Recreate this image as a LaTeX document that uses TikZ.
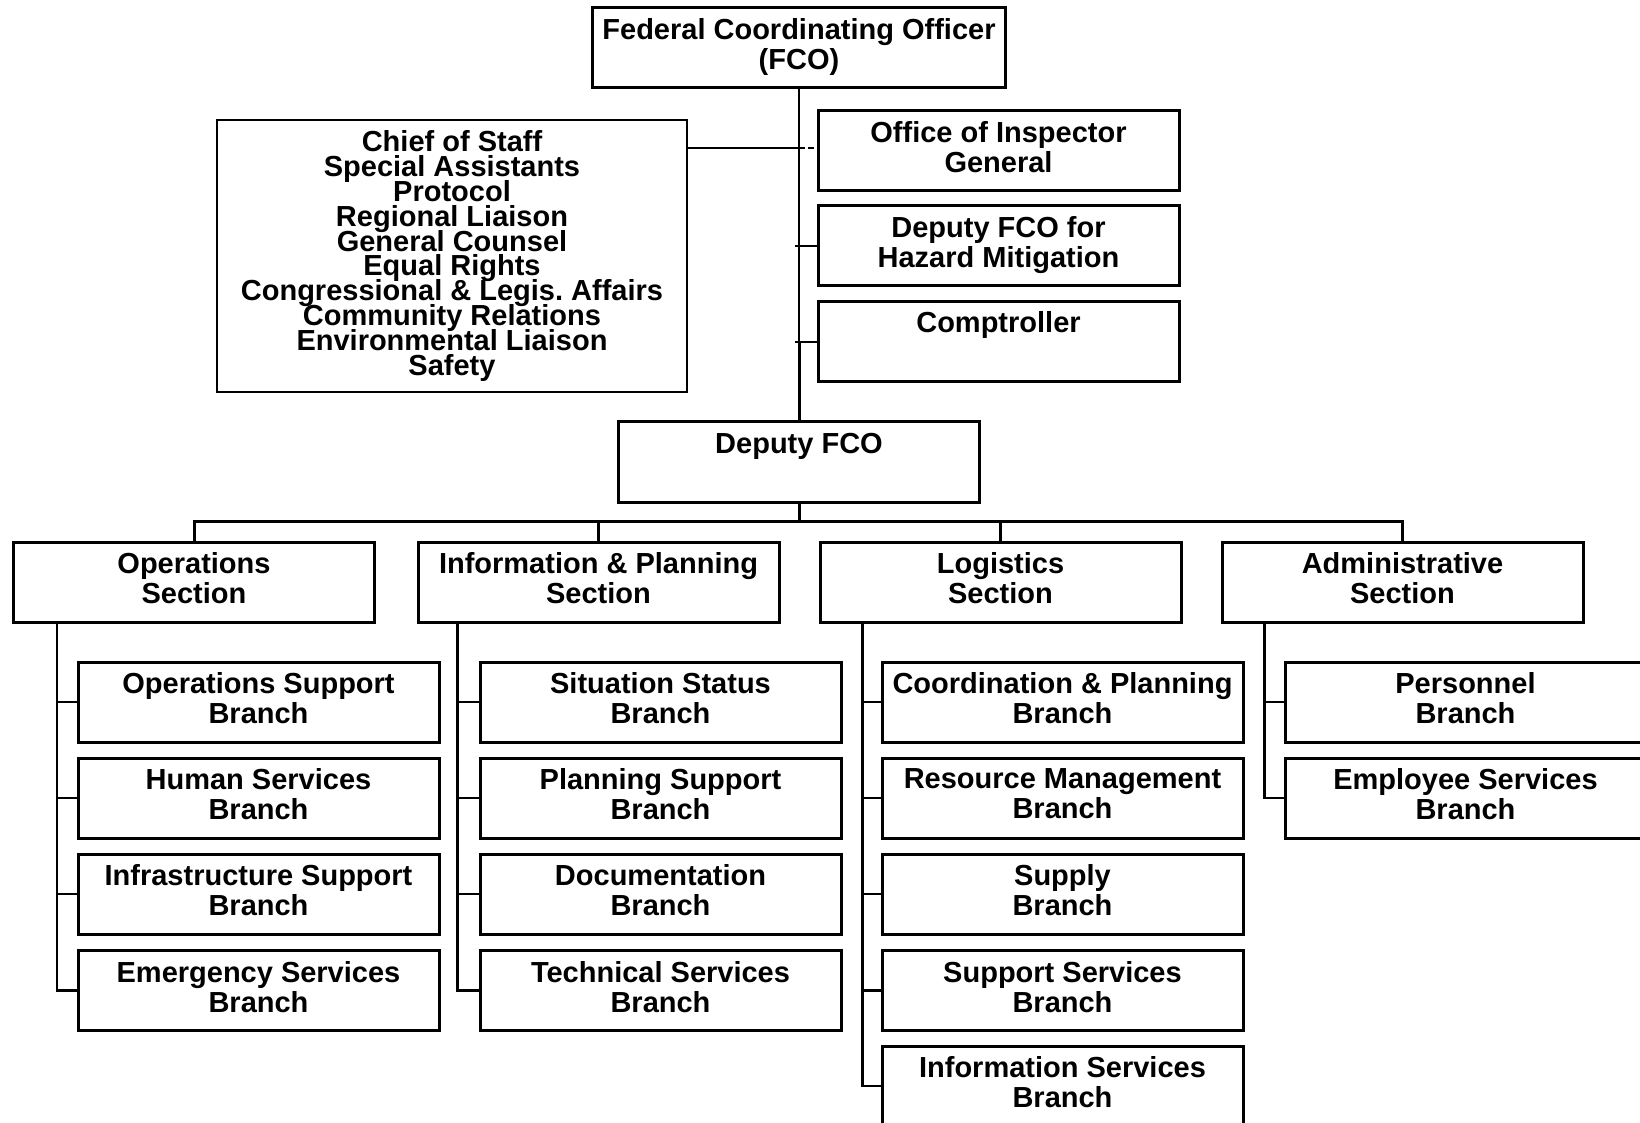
\documentclass[tikz,border=0pt]{standalone}
\usepackage{fontspec}
\setmainfont{Liberation Sans}
\usetikzlibrary{positioning, calc}
\tikzset{
    kasten/.style={
        draw=black,            % kräftige Kontur
        line width=1.5pt,
        minimum width=180.5pt,
        minimum height=40pt,
        inner sep=0pt,
        align=center,
        font=\bfseries\fontsize{14.5}{15}\selectfont,
        execute at begin node={\vrule height 11pt depth 0pt width 0pt},
        execute at end node={\vrule height 0pt depth 4pt width 0pt}
    },
    oben/.style={text height=15.5pt, text depth=24.5pt},  % einzeiliger Text oben
    stabliste/.style={
        draw=black,
        line width=0.75pt,
        minimum width=235pt,
        minimum height=136pt,
        inner sep=0pt,
        align=center,
        font=\bfseries\fontsize{14.5}{12.4}\selectfont,
        execute at begin node={\lineskiplimit=-100pt\relax}
    },
    duenn/.style={line width=1pt},
    linie/.style={line width=1.2pt},
    dick/.style={line width=1.5pt}
}

\begin{document}
\begin{tikzpicture}[x=0.5pt, y=-0.5pt]
    \useasboundingbox (0,0) rectangle (1640,1123);

    % Leitungsebene
    \node[kasten, minimum width=206.5pt] (fco) at (799,47.5) {Federal Coordinating Officer\\(FCO)};
    \node[stabliste] (stab) at (452,256) {Chief of Staff\\Special Assistants\\Protocol\\Regional Liaison\\General Counsel\\Equal Rights\\Congressional \& Legis.\ Affairs\\Community Relations\\Environmental Liaison\\Safety};
    \node[kasten] (ig)   at (998.5,151) {Office of Inspector\\General};
    \node[kasten] (hm)   at (998.5,246) {Deputy FCO for\\Hazard Mitigation};
    \node[kasten, oben] (comp) at (998.5,342) {Comptroller};
    \node[kasten, oben] (dep)  at (799,462) {Deputy FCO};

    % Sektionen
    \node[kasten] (ops)  at (194,582)    {Operations\\Section};
    \node[kasten] (info) at (598.5,582)  {Information \& Planning\\Section};
    \node[kasten] (log)  at (1000.5,582) {Logistics\\Section};
    \node[kasten] (adm)  at (1402.5,582) {Administrative\\Section};

    % Branches: Operations
    \node[kasten] (ob1) at (258.5,702)   {Operations Support\\Branch};
    \node[kasten] (ob2) at (258.5,798)   {Human Services\\Branch};
    \node[kasten] (ob3) at (258.5,894)   {Infrastructure Support\\Branch};
    \node[kasten] (ob4) at (258.5,990.5) {Emergency Services\\Branch};

    % Branches: Information & Planning
    \node[kasten] (ib1) at (660.5,702)   {Situation Status\\Branch};
    \node[kasten] (ib2) at (660.5,798)   {Planning Support\\Branch};
    \node[kasten] (ib3) at (660.5,894)   {Documentation\\Branch};
    \node[kasten] (ib4) at (660.5,990.5) {Technical Services\\Branch};

    % Branches: Logistics
    \node[kasten] (lb1) at (1062.5,702)   {Coordination \& Planning\\Branch};
    \node[kasten] (lb2) at (1062.5,798)   {Resource Management\\Branch};
    \node[kasten] (lb3) at (1062.5,894)   {Supply\\Branch};
    \node[kasten] (lb4) at (1062.5,990.5) {Support Services\\Branch};
    \node[kasten] (lb5) at (1062.5,1086)  {Information Services\\Branch};

    % Branches: Administrative
    \node[kasten] (ab1) at (1465.5,702) {Personnel\\Branch};
    \node[kasten] (ab2) at (1465.5,798) {Employee Services\\Branch};

    % Verbindungen oben
    \coordinate (knick) at (799,148);
    \draw[duenn] (fco.south) -- (comp.west -| fco.south);
    \draw[dick] (comp.west -| fco.south) -- (dep.north);
    \draw[duenn] (knick -| stab.east) -- (knick);
    \draw[duenn, dash pattern=on 3pt off 1.5pt] (knick) -- (knick -| ig.west);
    \draw[duenn] (hm.west) -- ([xshift=-2pt]hm.west -| fco.south);
    \draw[duenn] (comp.west) -- ([xshift=-2pt]comp.west -| fco.south);

    % Sammelschiene zu den Sektionen
    \coordinate (bus) at (799,521);
    \draw[dick] (dep.south) -- (bus);
    \draw[dick] (ops.north) -- (ops.north |- bus) -- (adm.north |- bus) -- (adm.north);
    \draw[dick] (info.north) -- (info.north |- bus);
    \draw[dick] (log.north) -- (log.north |- bus);

    % Stränge zu den Branches
    \draw[linie] ([xshift=22.5pt]ops.south west) coordinate (os) |- (ob4.west);
    \draw[linie] ([xshift=20.5pt]info.south west) coordinate (is) |- (ib4.west);
    \draw[linie] ([xshift=22pt]log.south west) coordinate (ls) |- (lb5.west);
    \draw[linie] ([xshift=22pt]adm.south west) coordinate (as) |- (ab2.west);
    \foreach \b in {ob1,ob2,ob3} \draw[linie] (\b.west) -- (\b.west -| os);
    \foreach \b in {ib1,ib2,ib3} \draw[linie] (\b.west) -- (\b.west -| is);
    \foreach \b in {lb1,lb2,lb3,lb4} \draw[linie] (\b.west) -- (\b.west -| ls);
    \draw[linie] (ab1.west) -- (ab1.west -| as);

\end{tikzpicture}
\end{document}
